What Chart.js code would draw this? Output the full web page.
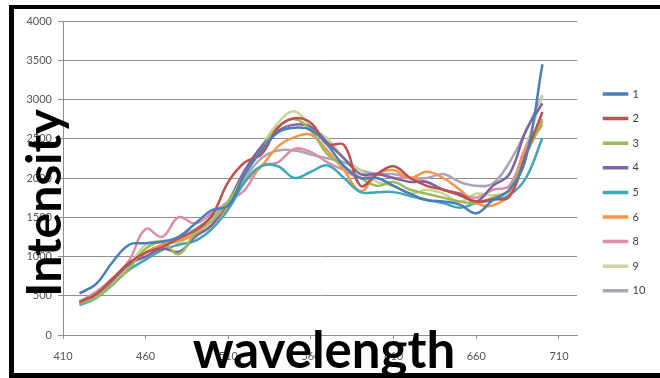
<!DOCTYPE html>
<html>
<head>
<meta charset="utf-8">
<script src="https://cdn.jsdelivr.net/npm/chart.js@4.4.1/dist/chart.umd.min.js"></script>
<style>
    html, body { margin: 0; padding: 0; background: #fff; }
</style>
</head>
<body>
<canvas id="chart" width="660" height="378"></canvas>
<script>
// spectra: intensity vs wavelength, one line per sample

var wavelengths = [420, 430, 440, 450, 460, 470, 480, 490, 500, 510, 520, 530, 540, 550, 560,
                   570, 580, 590, 600, 610, 620, 630, 640, 650, 660, 670, 680, 690, 700];
var xTicks = [410, 460, 510, 560, 610, 660, 710];
var seriesNames = ['1', '2', '3', '4', '5', '6', '8', '9', '10'];
var seriesColors = ['#4a7ebb', '#c0504d', '#9bbb59', '#8064a2', '#3fa7b5', '#f79646', '#dc8fa6', '#c8d59c', '#aaa5b8'];

var s1  = [530, 650, 930, 1150, 1170, 1190, 1250, 1420, 1590, 1650, 2050, 2350, 2580, 2640, 2610, 2420, 2150, 2000, 2000, 1900, 1800, 1720, 1700, 1660, 1550, 1720, 1850, 2250, 3450];
var s2  = [420, 520, 720, 920, 1050, 1120, 1230, 1330, 1520, 1950, 2200, 2300, 2640, 2760, 2700, 2430, 2420, 1900, 2050, 2150, 2000, 1900, 1850, 1780, 1700, 1730, 1760, 2300, 2840];
var s3  = [400, 480, 650, 850, 1100, 1180, 1030, 1300, 1450, 1700, 2050, 2350, 2650, 2750, 2600, 2300, 2150, 2000, 1900, 1950, 1850, 1800, 1750, 1700, 1680, 1750, 1850, 2300, 2720];
var s4  = [420, 520, 700, 900, 1000, 1100, 1060, 1250, 1400, 1700, 2100, 2400, 2600, 2680, 2650, 2450, 2250, 2050, 2050, 2000, 1950, 1950, 1850, 1800, 1700, 1900, 2050, 2600, 2950];
var s5  = [380, 470, 640, 830, 960, 1080, 1150, 1200, 1350, 1600, 1950, 2150, 2150, 2000, 2080, 2160, 2000, 1820, 1820, 1820, 1770, 1720, 1680, 1620, 1680, 1720, 1780, 2000, 2510];
var s6  = [400, 500, 700, 900, 1050, 1150, 1200, 1280, 1400, 1650, 1950, 2150, 2400, 2520, 2550, 2350, 2100, 1830, 2050, 2100, 2000, 2080, 2000, 1850, 1680, 1650, 1800, 2350, 2680];
var s8  = [420, 550, 720, 950, 1350, 1250, 1500, 1420, 1550, 1700, 1850, 2150, 2200, 2370, 2330, 2200, 2100, 2000, 2050, 2000, 2000, 1950, 1850, 1800, 1750, 1850, 1900, 2400, 2750];
var s9  = [430, 520, 680, 880, 1150, 1200, 1180, 1300, 1450, 1700, 2050, 2400, 2700, 2850, 2650, 2500, 2250, 2100, 1950, 1900, 1800, 1850, 1800, 1700, 1800, 1780, 1850, 2400, 3050];
var s10 = [430, 540, 700, 900, 1050, 1150, 1250, 1350, 1500, 1700, 2000, 2250, 2350, 2350, 2300, 2250, 2200, 2100, 2050, 2050, 2000, 2000, 2050, 1950, 1900, 1930, 2200, 2600, 3050];

var allSeries = [s1, s2, s3, s4, s5, s6, s8, s9, s10];

var datasets = allSeries.map(function (values, i) {
    return {
        label: seriesNames[i],
        data: values.map(function (v, j) { return { x: wavelengths[j], y: v }; }),
        borderColor: seriesColors[i],
        backgroundColor: seriesColors[i],
        borderWidth: 2.5,
        pointRadius: 0,
        tension: 0.4,
        fill: false
    };
});

// white background, big axis titles and the black frame
var framePlugin = {
    id: 'frame',
    beforeDraw: function (chart) {
        var ctx = chart.ctx;
        ctx.save();
        ctx.fillStyle = '#ffffff';
        ctx.fillRect(0, 0, chart.width, chart.height);
        ctx.restore();
    },
    afterLayout: function (chart) {
        // move legend to where the original has it (legend clips to its box, so move all edges)
        var lg = chart.legend;
        var pad = chart.options.plugins.legend.labels.padding;
        var w = lg.width, h = lg.height;
        lg.left = 604 - pad;
        lg.right = lg.left + w;
        lg.top = 94 - 5.5 - pad;
        lg.bottom = lg.top + h;
    },
    afterDraw: function (chart) {
        var ctx = chart.ctx;
        ctx.save();
        ctx.fillStyle = '#000000';
        ctx.font = 'bold 51px Lato';
        ctx.textAlign = 'center';
        ctx.textBaseline = 'alphabetic';
        ctx.fillText('wavelength', 324, 368);

        ctx.translate(61, 203);
        ctx.rotate(-Math.PI / 2);
        ctx.font = 'bold 48px Lato';
        ctx.fillText('Intensity', 0, 0);
        ctx.restore();

        ctx.save();
        ctx.fillStyle = '#000000';
        ctx.fillRect(9, 5, 651, 4);
        ctx.fillRect(9, 5, 5, 373);
        ctx.fillRect(9, 373, 651, 5);
        ctx.restore();
    }
};

var ctx = document.getElementById('chart').getContext('2d');

var chart = new Chart(ctx, {
    type: 'line',
    data: { datasets: datasets },
    options: {
        responsive: false,
        animation: false,
        devicePixelRatio: 1,
        layout: {
            padding: { left: 0, right: 18, top: 21, bottom: 0 }
        },
        scales: {
            x: {
                type: 'linear',
                min: 410,
                max: 721,
                afterBuildTicks: function (scale) {
                    scale.ticks = xTicks.map(function (v) { return { value: v }; });
                },
                afterFit: function (scale) {
                    scale.height = 43;
                },
                grid: {
                    drawOnChartArea: false,
                    drawTicks: true,
                    tickLength: 4,
                    color: '#8f8f8f'
                },
                border: { color: '#8f8f8f' },
                ticks: {
                    padding: 11,
                    color: '#555555',
                    font: { family: 'Lato', size: 11 },
                    maxRotation: 0,
                    callback: function (value) { return String(value); }
                }
            },
            y: {
                min: 0,
                max: 4000,
                afterFit: function (scale) {
                    scale.width = 63;
                },
                grid: {
                    color: '#8f8f8f',
                    tickLength: 5
                },
                border: { color: '#8f8f8f' },
                ticks: {
                    stepSize: 500,
                    padding: 6,
                    color: '#555555',
                    font: { family: 'Lato', size: 11 },
                    callback: function (value) { return String(value); }
                }
            }
        },
        plugins: {
            legend: {
                position: 'right',
                align: 'start',
                labels: {
                    boxWidth: 23,
                    boxHeight: 1,
                    padding: 13.6,
                    color: '#404040',
                    font: { family: 'Lato', size: 11 }
                }
            },
            tooltip: { enabled: false }
        }
    },
    plugins: [framePlugin]
});
</script>
</body>
</html>
